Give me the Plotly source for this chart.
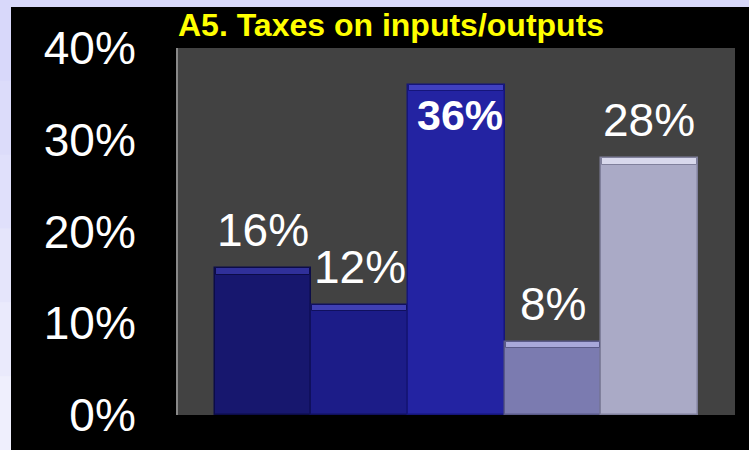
import plotly.graph_objects as go

# ---- data ----
categories = ["c1", "c2", "c3", "c4", "c5"]
values = [16, 12, 36, 8, 28]
labels = ["16%", "12%", "36%", "8%", "28%"]
tick_vals = [0, 10, 20, 30, 40]
tick_text = ["0%", "10%", "20%", "30%", "40%"]
title_text = "A5. Taxes on inputs/outputs"

# ---- styles ----
bar_colors = ["#17176e", "#1c1c88", "#2323a2", "#7b7bb0", "#aaaac6"]
edge_colors = ["#0c0c48", "#10105e", "#15157a", "#5a5a88", "#80809c"]
top_colors = ["#30309a", "#4040b4", "#4040c0", "#a8a8da", "#d8d8ec"]
bevel = 0.7
FONT = "Liberation Sans, Arial, sans-serif"

# plot-area geometry in pixels (for decoration shapes outside the plot)
W, H = 749, 450
L, R, T, B = 178, 14, 48, 35
pw, ph = W - L - R, H - T - B


def px_x(px):
    return (px - L) / pw


def px_y(py):
    return (H - B - py) / ph


fig = go.Figure()
fig.add_trace(go.Bar(
    x=categories, y=values,
    marker=dict(color=bar_colors, line=dict(color=edge_colors, width=1.5)),
    hoverinfo="skip", showlegend=False,
))
# top bevel highlight
fig.add_trace(go.Bar(
    x=categories, y=[bevel] * len(values), base=[v - bevel for v in values],
    marker=dict(color=top_colors, line=dict(color=edge_colors, width=1)),
    width=0.98, hoverinfo="skip", showlegend=False,
))

annotations = []
for c, v, t in zip(categories, values, labels):
    if v == max(values):
        annotations.append(dict(
            x=c, y=v, xref="x", yref="y", text="<b>%s</b>" % t, showarrow=False,
            yanchor="top", yshift=-4, xshift=4,
            font=dict(family=FONT, size=43, color="white"),
        ))
    else:
        annotations.append(dict(
            x=c, y=v, xref="x", yref="y", text=t, showarrow=False,
            yanchor="bottom", yshift=10,
            font=dict(family=FONT, size=46, color="white"),
        ))
annotations.append(dict(
    x=px_x(176), y=px_y(45), xref="paper", yref="paper", text="<b>%s</b>" % title_text,
    showarrow=False, xanchor="left", yanchor="bottom",
    font=dict(family=FONT, size=32, color="#ffff00"),
))

# lavender frame (gradient approximated by overlapping bands on the left)
shapes = [dict(
    type="rect", xref="paper", yref="paper", layer="below",
    x0=px_x(-5), x1=px_x(W + 5), y0=px_y(7), y1=px_y(-5),
    fillcolor="#d8d8fa", line=dict(width=0),
)]
band_cols = ["#d8d8fa", "#dcdcfa", "#e0e0fb", "#e5e5fb", "#eaeafc", "#efeffd"]
nb = len(band_cols)
for i, col in enumerate(band_cols):
    shapes.append(dict(
        type="rect", xref="paper", yref="paper", layer="below",
        x0=px_x(-5), x1=px_x(11),
        y0=px_y(H + 10) if i == nb - 1 else px_y(7 + (H - 7) * (i + 1) / nb + 2),
        y1=px_y(-10) if i == 0 else px_y(7 + (H - 7) * i / nb),
        fillcolor=col, line=dict(width=0),
    ))

fig.update_layout(
    width=W, height=H,
    margin=dict(l=L, r=R, t=T, b=B),
    paper_bgcolor="black",
    plot_bgcolor="#424242",
    barmode="overlay",
    bargap=0,
    annotations=annotations,
    shapes=shapes,
    xaxis=dict(
        type="category", range=[-0.88, 4.885], automargin=False,
        showticklabels=False, showgrid=False, zeroline=False, showline=False,
        ticks="",
    ),
    yaxis=dict(
        range=[0, 40], tickvals=tick_vals, ticktext=tick_text, automargin=False,
        showgrid=False, zeroline=False,
        showline=True, linecolor="#888888", linewidth=2,
        ticks="", ticklabelstandoff=31,
        tickfont=dict(family=FONT, size=46, color="white"),
    ),
)

fig.write_html(
    "out.html",
    config={"displayModeBar": False},
    post_script="document.body.style.margin='0';document.body.style.overflow='hidden';",
)
